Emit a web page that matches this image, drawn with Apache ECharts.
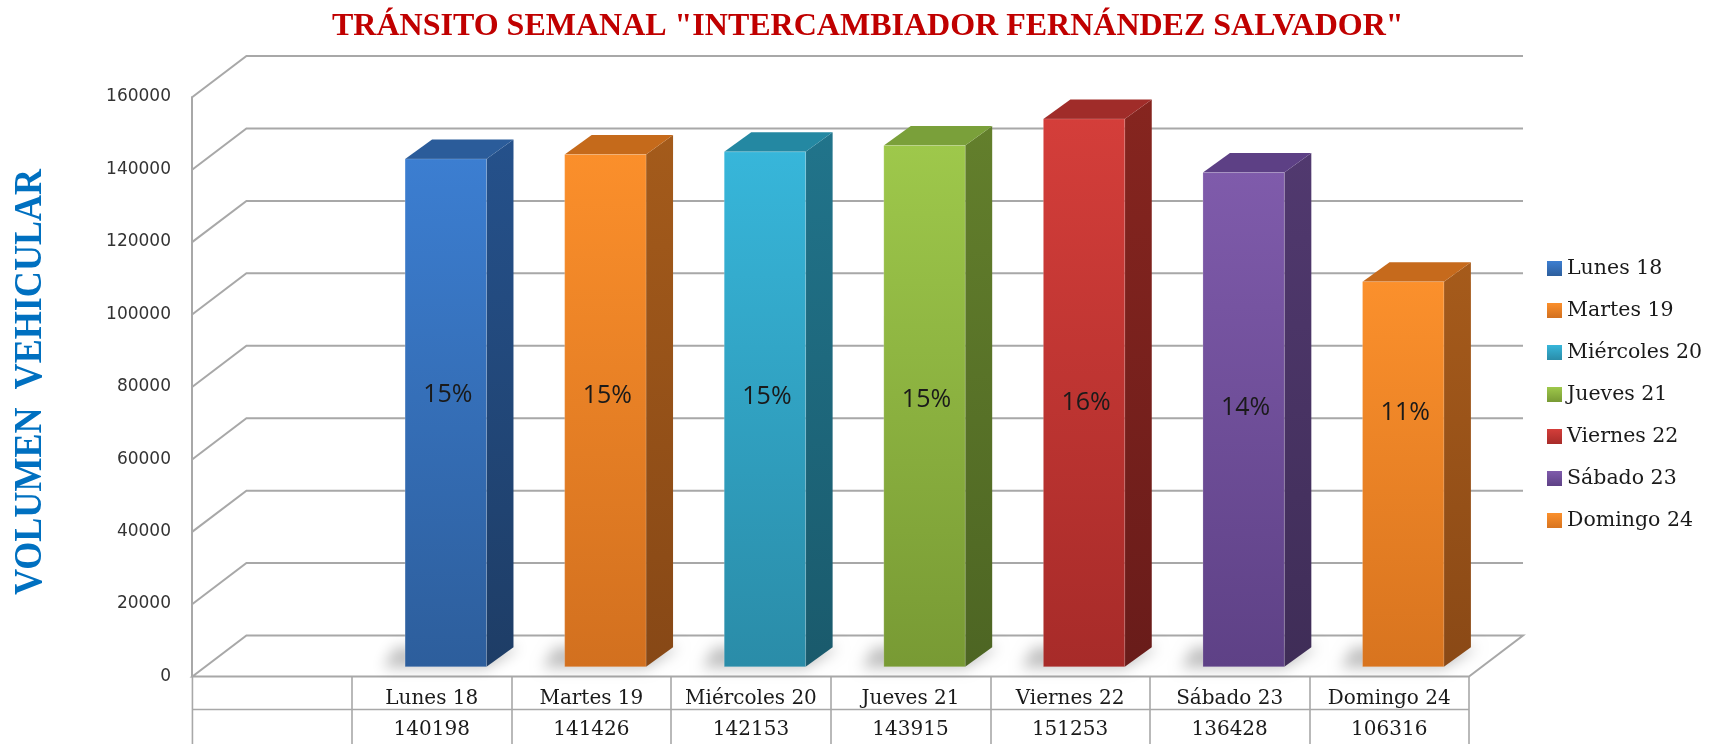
<!DOCTYPE html>
<html>
<head>
<meta charset="utf-8">
<script src="https://cdn.jsdelivr.net/npm/echarts@6/dist/echarts.min.js"></script>
<style>
  html, body { margin: 0; padding: 0; background: #ffffff; }
  #chart { width: 1711px; height: 744px; }
</style>
</head>
<body>
<div id="chart"></div>
<script>
// Weekly traffic counts per day
const days = ['Lunes 18', 'Martes 19', 'Miércoles 20', 'Jueves 21', 'Viernes 22', 'Sábado 23', 'Domingo 24'];
const volumes = [140198, 141426, 142153, 143915, 151253, 136428, 106316];
const yTicks = [0, 20000, 40000, 60000, 80000, 100000, 120000, 140000, 160000];

// Face colours for each column: front (top / bottom), top face, side (top / bottom)
const palette = [
  { ft: '#3C7ED1', fb: '#2D5E9C', top: '#2B5C9A', st: '#25518B', sb: '#1E3D66' },
  { ft: '#FB8F2B', fb: '#D2701F', top: '#C56A1B', st: '#A45B1B', sb: '#874816' },
  { ft: '#37B6DA', fb: '#2A8CA8', top: '#2488A2', st: '#21748B', sb: '#1A5A6C' },
  { ft: '#9EC84B', fb: '#789A34', top: '#7AA03A', st: '#637F2C', sb: '#4D6523' },
  { ft: '#D43E3A', fb: '#A72B29', top: '#A02C29', st: '#86251F', sb: '#691C1A' },
  { ft: '#7F5BAB', fb: '#5E4186', top: '#5D4085', st: '#51396F', sb: '#3F2D57' },
  { ft: '#FB902C', fb: '#D8741F', top: '#C66A1C', st: '#A65B1B', sb: '#8A4916' }
];

const total = volumes.reduce((a, b) => a + b, 0);

const GRID_LINE = '#A8A8A8';
const WALL_DX = 54, WALL_DY = -41;      // depth of the side wall / floor
const BAR_OX = 14, BAR_OY = -9.8;       // columns stand part way into the floor
const BAR_DX = 27, BAR_DY = -19.5;      // depth of each column
const BAR_RATIO = 0.51;

function grad(c1, c2) {
  return { type: 'linear', x: 0, y: 0, x2: 0, y2: 1,
           colorStops: [{ offset: 0, color: c1 }, { offset: 1, color: c2 }] };
}

// Back wall grid lines, floor and the data table rules
function renderFrame(params, api) {
  const cs = params.coordSys;
  const band = cs.width / days.length;
  const x0 = cs.x - band;
  const x1 = cs.x + cs.width;
  const tick = api.value(1);
  const y = api.coord([0, tick])[1];
  const line = { stroke: GRID_LINE, lineWidth: 2, fill: null };
  const children = [];
  if (tick === 0) {
    children.push({
      type: 'polygon',
      shape: { points: [[x0, y], [x1, y], [x1 + WALL_DX, y + WALL_DY], [x0 + WALL_DX, y + WALL_DY]] },
      style: { fill: '#ffffff', stroke: GRID_LINE, lineWidth: 2 }
    });
    // table rules
    children.push({ type: 'line', shape: { x1: x0, y1: y, x2: x0, y2: 744 }, style: { stroke: GRID_LINE, lineWidth: 1.6 } });
    children.push({ type: 'line', shape: { x1: x0, y1: y + 33, x2: x1, y2: y + 33 }, style: { stroke: GRID_LINE, lineWidth: 1.6 } });
  } else {
    children.push({
      type: 'polyline',
      shape: { points: [[x0, y], [x0 + WALL_DX, y + WALL_DY], [x1 + WALL_DX, y + WALL_DY]] },
      style: line
    });
  }
  return { type: 'group', children: children };
}

// One 3D column with its share-of-week label
function renderBar(params, api) {
  const i = api.value(0);
  const v = api.value(1);
  const c = palette[i];
  const base = api.coord([i, 0]);
  const top = api.coord([i, v]);
  const band = api.size([1, 0])[0];
  const w = band * BAR_RATIO;
  const xl = base[0] - w / 2 + BAR_OX;
  const xr = xl + w;
  const yb = base[1] + BAR_OY;
  const yt = top[1] + BAR_OY;
  const labelY = api.coord([i, 75000])[1] + BAR_OY + 0.5 * i * i;
  const pct = Math.round(v / total * 100) + '%';
  const off = 3000;
  return {
    type: 'group',
    children: [
      { // soft contact shadow on the floor
        type: 'polygon',
        shape: { points: [[xl - 22 - off, yb + 1], [xr - off, yb + 1], [xr + BAR_DX + 6 - off, yb + BAR_DY], [xl - 10 - off, yb + BAR_DY]] },
        style: { fill: 'rgba(0,0,0,0.55)', shadowBlur: 14, shadowColor: 'rgba(0,0,0,0.45)', shadowOffsetX: off, shadowOffsetY: 0 }
      },
      {
        type: 'polygon',
        shape: { points: [[xr, yt], [xr + BAR_DX, yt + BAR_DY], [xr + BAR_DX, yb + BAR_DY], [xr, yb]] },
        style: { fill: grad(c.st, c.sb) }
      },
      {
        type: 'polygon',
        shape: { points: [[xl, yt], [xr, yt], [xr + BAR_DX, yt + BAR_DY], [xl + BAR_DX, yt + BAR_DY]] },
        style: { fill: c.top }
      },
      {
        type: 'rect',
        shape: { x: xl, y: yt, width: w, height: yb - yt },
        style: { fill: grad(c.ft, c.fb), stroke: 'rgba(255,255,255,0.18)', lineWidth: 1 }
      },
      {
        type: 'text',
        x: (xl + xr) / 2 + 2, y: labelY,
        style: { text: pct, fill: '#1a1a1a', font: '25px "Open Sans"', align: 'center', verticalAlign: 'middle' }
      }
    ]
  };
}

const series = [{
  name: 'frame',
  type: 'custom',
  coordinateSystem: 'cartesian2d',
  data: yTicks.map(t => [0, t]),
  renderItem: renderFrame,
  silent: true,
  z: 1
}];

days.forEach((d, i) => {
  series.push({
    name: d,
    type: 'custom',
    coordinateSystem: 'cartesian2d',
    itemStyle: { color: grad(palette[i].ft, palette[i].fb) },
    data: [[i, volumes[i]]],
    encode: { x: 0, y: 1 },
    renderItem: renderBar,
    z: 3
  });
});

const chart = echarts.init(document.getElementById('chart'), null, { renderer: 'canvas' });
chart.setOption({
  animation: false,
  backgroundColor: '#ffffff',
  title: {
    text: 'TRÁNSITO SEMANAL "INTERCAMBIADOR FERNÁNDEZ SALVADOR"',
    left: 327, top: 6,
    textStyle: { fontFamily: '"Liberation Serif"', fontWeight: 'bold', fontSize: 32, color: '#C00000' }
  },
  graphic: [{
    type: 'text',
    x: 30, y: 382,
    rotation: Math.PI / 2,
    scaleX: 0.88,
    style: {
      text: 'VOLUMEN  VEHICULAR',
      font: 'bold 41px "Liberation Serif"',
      fill: '#0070C0',
      align: 'center',
      verticalAlign: 'middle'
    }
  }],
  legend: {
    data: days,
    orient: 'vertical',
    left: 1542, top: 252,
    icon: 'rect',
    itemWidth: 15, itemHeight: 15, itemGap: 19,
    textStyle: { fontFamily: '"DejaVu Serif"', fontSize: 20.5, color: '#1a1a1a', lineHeight: 23 }
  },
  grid: { left: 352, right: 242, top: 97, bottom: 67.5 },
  xAxis: {
    type: 'category',
    data: days,
    axisLine: { show: false },
    axisTick: { show: true, interval: 0, length: 68, lineStyle: { color: GRID_LINE, width: 1.6 } },
    axisLabel: {
      interval: 0, margin: 7,
      formatter: (val, idx) => '{n|' + val + '}\n{n|' + volumes[idx] + '}',
      rich: { n: { fontFamily: '"DejaVu Serif"', fontSize: 20, lineHeight: 31, color: '#1a1a1a' } }
    },
    splitLine: { show: false }
  },
  yAxis: {
    type: 'value',
    min: 0, max: 160000, interval: 20000,
    offset: 160,
    axisLine: { show: true, lineStyle: { color: GRID_LINE, width: 2 } },
    axisTick: { show: false },
    splitLine: { show: false },
    axisLabel: {
      margin: 21, fontFamily: '"DejaVu Sans"', fontSize: 17, color: '#333333',
      formatter: (val) => String(val)
    }
  },
  series: series
});
</script>
</body>
</html>
